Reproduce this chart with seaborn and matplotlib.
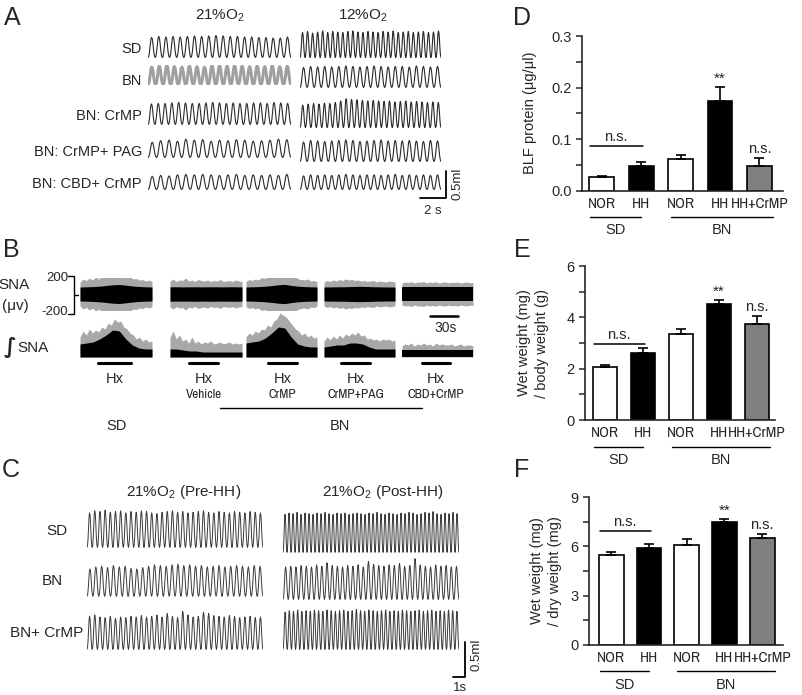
import matplotlib
matplotlib.use('Agg')
import matplotlib.pyplot as plt
from matplotlib.lines import Line2D
from matplotlib.ticker import MultipleLocator
import seaborn as sns

# ---------------- data ----------------
# one breath (fraction of the peak, trough to trough)
breath_shape = [0.0, 0.05, 0.25, 0.6, 0.9, 1.0, 0.92, 0.65, 0.3, 0.08]

# panel A: breath peak heights (ml), one value per breath
a_labels = ['SD', 'BN', 'BN: CrMP', 'BN: CrMP+ PAG', 'BN: CBD+ CrMP']
a_21 = [
    [0.38, 0.40, 0.39, 0.40, 0.39, 0.40, 0.41, 0.40, 0.41, 0.42, 0.41, 0.40, 0.40, 0.39, 0.39, 0.38, 0.38, 0.37, 0.37, 0.39],
    [0.33, 0.35, 0.36, 0.34, 0.33, 0.35, 0.34, 0.33, 0.36, 0.36, 0.35, 0.36, 0.35, 0.34, 0.35, 0.34, 0.36, 0.34, 0.35],
    [0.39, 0.40, 0.40, 0.41, 0.42, 0.41, 0.40, 0.40, 0.41, 0.42, 0.41, 0.40, 0.41, 0.40, 0.40, 0.41, 0.41, 0.40, 0.42, 0.41, 0.40],
    [0.29, 0.32, 0.33, 0.31, 0.35, 0.33, 0.34, 0.31, 0.33, 0.32, 0.34, 0.33, 0.31, 0.32, 0.33, 0.35, 0.34],
    [0.25, 0.27, 0.26, 0.28, 0.29, 0.28, 0.29, 0.28, 0.27, 0.28, 0.29, 0.27, 0.28, 0.27, 0.28, 0.27, 0.29],
]
a_12 = [
    [0.47, 0.49, 0.46, 0.48, 0.50, 0.47, 0.49, 0.48, 0.47, 0.49, 0.50, 0.48, 0.47, 0.49, 0.48, 0.47, 0.49, 0.48, 0.50, 0.47,
     0.48, 0.49, 0.47, 0.48, 0.49, 0.47, 0.48, 0.50],
    [0.38, 0.40, 0.39, 0.40, 0.39, 0.40, 0.41, 0.40, 0.39, 0.40, 0.41, 0.40, 0.39, 0.40, 0.40, 0.39, 0.41, 0.40, 0.39, 0.40],
    [0.42, 0.44, 0.45, 0.44, 0.46, 0.45, 0.47, 0.50, 0.54, 0.53, 0.52, 0.51, 0.50, 0.51, 0.50, 0.49, 0.50, 0.48, 0.49, 0.50,
     0.48, 0.49, 0.48, 0.47, 0.48, 0.47],
    [0.37, 0.40, 0.39, 0.38, 0.39, 0.40, 0.41, 0.40, 0.38, 0.39, 0.40, 0.41, 0.39, 0.40, 0.39, 0.40, 0.39, 0.38, 0.40, 0.39],
    [0.26, 0.28, 0.27, 0.28, 0.27, 0.28, 0.29, 0.28, 0.27, 0.28, 0.28, 0.27, 0.28, 0.29, 0.27, 0.28, 0.27, 0.28, 0.27, 0.28],
]

# panel C: breath peak heights (ml)
c_labels = ['SD', 'BN', 'BN+ CrMP']
c_pre = [
    [0.50, 0.53, 0.52, 0.54, 0.51, 0.52, 0.53, 0.50, 0.52, 0.51, 0.53, 0.52, 0.50, 0.49, 0.51, 0.52, 0.53, 0.51,
     0.52, 0.50, 0.51, 0.52, 0.53, 0.51, 0.50, 0.52, 0.51, 0.50, 0.52, 0.51, 0.50, 0.52, 0.51, 0.50],
    [0.40, 0.43, 0.44, 0.42, 0.45, 0.43, 0.44, 0.41, 0.40, 0.42, 0.44, 0.46, 0.45, 0.44, 0.46, 0.47, 0.45, 0.46,
     0.44, 0.45, 0.43, 0.44, 0.45, 0.43, 0.44, 0.45, 0.44, 0.43, 0.45, 0.44],
    [0.48, 0.50, 0.47, 0.46, 0.48, 0.45, 0.47, 0.46, 0.48, 0.47, 0.49, 0.47, 0.48, 0.50, 0.47, 0.52, 0.48, 0.46,
     0.55, 0.50, 0.47, 0.48, 0.54, 0.52, 0.49, 0.48, 0.47, 0.49, 0.48, 0.46, 0.47, 0.48, 0.46, 0.47],
]
c_post = [
    [0.55, 0.57, 0.56, 0.58, 0.55, 0.57, 0.56, 0.55, 0.57, 0.56, 0.58, 0.56, 0.55, 0.57, 0.56, 0.57, 0.55, 0.56,
     0.57, 0.56, 0.55, 0.57, 0.56, 0.58, 0.56, 0.55, 0.57, 0.56, 0.55, 0.57, 0.56, 0.58, 0.57, 0.55, 0.56, 0.58,
     0.57, 0.59, 0.56, 0.55, 0.57, 0.56, 0.58, 0.56],
    [0.47, 0.48, 0.47, 0.49, 0.48, 0.47, 0.50, 0.48, 0.53, 0.49, 0.48, 0.47, 0.49, 0.48, 0.50, 0.47, 0.55, 0.51,
     0.49, 0.48, 0.50, 0.49, 0.52, 0.48, 0.49, 0.59, 0.50, 0.48, 0.47, 0.50, 0.48, 0.49, 0.47, 0.48],
    [0.54, 0.56, 0.55, 0.57, 0.55, 0.56, 0.55, 0.57, 0.56, 0.55, 0.57, 0.56, 0.55, 0.56, 0.57, 0.55, 0.56, 0.58,
     0.56, 0.55, 0.57, 0.56, 0.55, 0.56, 0.57, 0.55, 0.56, 0.55, 0.57, 0.56, 0.55, 0.56, 0.57, 0.55, 0.56, 0.57,
     0.55, 0.56, 0.55, 0.57, 0.56, 0.55],
]

# panel B: SNA envelopes (uV) and integrated SNA envelopes (a.u.)
b_groups = ['SD', 'Vehicle', 'CrMP', 'CrMP+PAG', 'CBD+CrMP']
sna_core = [
    [70, 72, 74, 78, 85, 92, 95, 88, 80, 75, 72, 70],
    [72, 72, 71, 72, 72, 71, 72, 72, 71, 72, 72, 71],
    [70, 72, 74, 78, 84, 92, 96, 86, 78, 74, 72, 70],
    [70, 71, 72, 72, 74, 76, 76, 74, 72, 71, 70, 70],
    [72, 72, 72, 72, 72, 72, 72, 72, 72, 72, 72, 72],
]
sna_outer = [
    [120, 150, 135, 160, 140, 170, 150, 185, 165, 200, 180, 210, 190, 175, 195, 160, 170, 150, 155, 140, 145, 130, 140, 125],
    [130, 150, 125, 140, 135, 160, 130, 140, 125, 145, 135, 130, 140, 125, 135, 130, 145, 125, 130, 135, 125, 140, 130, 125],
    [125, 145, 135, 150, 140, 165, 155, 180, 175, 205, 190, 220, 200, 185, 190, 165, 170, 150, 145, 140, 150, 130, 135, 125],
    [120, 135, 125, 140, 130, 145, 135, 150, 140, 145, 135, 140, 130, 135, 125, 130, 135, 120, 130, 125, 120, 130, 125, 120],
    [110, 120, 115, 125, 110, 120, 118, 125, 112, 120, 115, 122, 110, 118, 120, 112, 118, 115, 120, 110, 116, 120, 112, 115],
]
int_outer = [
    [20, 26, 22, 28, 24, 27, 25, 30, 28, 34, 32, 38, 35, 36, 30, 28, 24, 22, 18, 20, 16, 18, 15, 16],
    [20, 26, 18, 22, 16, 18, 14, 20, 14, 16, 13, 15, 14, 16, 13, 14, 15, 13, 14, 15, 13, 14, 13, 14],
    [20, 24, 22, 26, 24, 28, 27, 32, 30, 36, 38, 44, 42, 40, 36, 32, 28, 26, 22, 24, 20, 22, 19, 20],
    [16, 20, 17, 21, 18, 22, 19, 23, 21, 24, 22, 25, 21, 22, 18, 19, 17, 18, 16, 18, 17, 18, 16, 17],
    [11, 13, 12, 14, 11, 13, 12, 14, 12, 13, 11, 14, 12, 13, 12, 12, 13, 11, 12, 13, 11, 12, 12, 11],
]
int_inner = [
    [13, 14, 15, 18, 22, 27, 26, 18, 12, 9, 8, 8],
    [8, 8, 7, 6, 6, 5, 5, 5, 5, 5, 5, 5],
    [14, 15, 16, 19, 24, 30, 29, 20, 13, 11, 10, 10],
    [10, 11, 12, 12, 14, 14, 13, 10, 8, 8, 8, 8],
    [7, 7, 7, 7, 7, 7, 7, 7, 7, 7, 7, 7],
]

# panels D-F
bar_keys = ['SD NOR', 'SD HH', 'BN NOR', 'BN HH', 'BN HH+CrMP']
bar_labels = ['NOR', 'HH', 'NOR', 'HH', 'HH+CrMP']
bar_colors = ['white', 'black', 'white', 'black', '#7f7f7f']
blf_mean = [0.027, 0.048, 0.061, 0.174, 0.048]
blf_err = [0.003, 0.008, 0.009, 0.027, 0.015]
body_mean = [2.05, 2.60, 3.37, 4.53, 3.75]
body_err = [0.09, 0.19, 0.17, 0.13, 0.29]
dry_mean = [5.50, 5.87, 6.07, 7.49, 6.48]
dry_err = [0.15, 0.30, 0.39, 0.16, 0.24]

# ---------------- style ----------------
sns.set_style('ticks')
plt.rcParams['font.family'] = ['Liberation Sans', 'DejaVu Sans']
plt.rcParams['mathtext.fontset'] = 'custom'
plt.rcParams['mathtext.rm'] = 'Liberation Sans'
plt.rcParams['mathtext.default'] = 'regular'
NARROW = ['Archivo Narrow', 'PT Sans Narrow', 'Liberation Sans']

W, H = 802, 695
fig = plt.figure(figsize=(W / 100, H / 100), dpi=100)


def rect(x0, y0, x1, y1):
    return [x0 / W, 1 - y1 / H, (x1 - x0) / W, (y1 - y0) / H]


def ftxt(x, y, s, **kw):
    kw.setdefault('ha', 'center')
    kw.setdefault('va', 'center')
    fig.text(x / W, 1 - y / H, s, **kw)


def fline(xs, ys, lw=1.3, color='black'):
    fig.add_artist(Line2D([x / W for x in xs], [1 - y / H for y in ys], lw=lw, color=color))


def draw_trace(box, peaks, px_ml, px_s, color='#2a2a2a', lw=0.8):
    x0, y0, x1, y1 = box
    ax = fig.add_axes(rect(x0, y0, x1, y1))
    dur = (x1 - x0) / px_s
    n = len(peaks)
    m = len(breath_shape)
    t, v = [], []
    for i, p in enumerate(peaks):
        for k, s in enumerate(breath_shape):
            t.append(dur * (i + k / m) / n)
            v.append(p * s)
    t.append(dur)
    v.append(0.0)
    sns.lineplot(x=t, y=v, ax=ax, color=color, lw=lw, estimator=None, sort=False,
                 solid_joinstyle='round')
    ax.set_xlim(0, dur)
    ax.set_ylim(-0.01, (y1 - y0) / px_ml)
    ax.set_axis_off()


def even(vals):
    return [k / (len(vals) - 1) for k in range(len(vals))]


# ---------------- panel A ----------------
ftxt(12, 18, 'A', fontsize=18)
ftxt(220, 16, '21%O$_2$', fontsize=11)
ftxt(363, 16, '12%O$_2$', fontsize=11)
a_left = [(148, 35, 291, 58), (148, 65, 291, 85), (148, 102, 291, 125), (148, 138, 291, 158), (148, 173, 291, 190)]
a_right = [(300, 30, 441, 58), (300, 65, 441, 88), (300, 98, 441, 128), (300, 138, 441, 162), (300, 173, 441, 190)]
a_label_y = [49, 81, 116, 152, 184]
for i in range(5):
    ftxt(142, a_label_y[i], a_labels[i], fontsize=10.5, ha='right')
    if i == 1:
        draw_trace(a_left[i], a_21[i], 54, 13, color='#a0a0a0', lw=2.2)
    else:
        draw_trace(a_left[i], a_21[i], 54, 13)
    draw_trace(a_right[i], a_12[i], 54, 13)
fline([446, 446, 420], [171, 198, 198])
ftxt(458, 184, '0.5ml', fontsize=9.5, rotation=90)
ftxt(433, 211, '2 s', fontsize=9.5)

# ---------------- panel B ----------------
ftxt(11, 250, 'B', fontsize=18)
ftxt(14, 285, 'SNA', fontsize=11)
ftxt(15, 306, '(\u03bcv)', fontsize=11)
ftxt(57, 278, '200', fontsize=9.5)
ftxt(55, 312, '-200', fontsize=9.5)
fline([68, 74, 74, 68], [276, 276, 314, 314], lw=1.0)
fline([74, 78], [295, 295], lw=1.0)
ftxt(4, 348, '\u222b', fontsize=15, ha='left', fontweight='bold', family=['DejaVu Sans'])
ftxt(17, 348, 'SNA', fontsize=11, ha='left')

b_x = [(80, 152), (170, 242), (246, 317), (324, 395), (402, 473)]
hx_bars = [(98, 131), (189, 218), (268, 297), (341, 370), (422, 450)]
hx_sub = ['', 'Vehicle', 'CrMP', 'CrMP+PAG', 'CBD+CrMP']
for i in range(5):
    x0, x1 = b_x[i]
    ax = fig.add_axes(rect(x0, 278, x1, 310))
    ax.fill_between(even(sna_outer[i]), [-v for v in sna_outer[i]], sna_outer[i], color='#a8a8a8', lw=0)
    ax.fill_between(even(sna_core[i]), [-v for v in sna_core[i]], sna_core[i], color='black', lw=0)
    ax.set_xlim(0, 1)
    ax.set_ylim(-160, 160)
    ax.set_axis_off()
    ax2 = fig.add_axes(rect(x0, 313, x1, 357))
    ax2.fill_between(even(int_outer[i]), 0, int_outer[i], color='#a8a8a8', lw=0)
    ax2.fill_between(even(int_inner[i]), 0, int_inner[i], color='black', lw=0)
    ax2.set_xlim(0, 1)
    ax2.set_ylim(0, 44)
    ax2.set_axis_off()
    hx0, hx1 = hx_bars[i]
    fline([hx0, hx1], [363, 363], lw=2.2)
    ftxt((hx0 + hx1) / 2, 379, 'Hx', fontsize=10.5)
    if hx_sub[i]:
        ftxt((hx0 + hx1) / 2, 394, hx_sub[i], fontsize=9.5, family=NARROW)
fline([430, 458], [316, 316], lw=1.8)
ftxt(446, 328, '30s', fontsize=10)
fline([220, 422], [408, 408], lw=1.0)
ftxt(117, 426, 'SD', fontsize=10.5)
ftxt(340, 426, 'BN', fontsize=10.5)

# ---------------- panel C ----------------
ftxt(11, 470, 'C', fontsize=18)
ftxt(184, 492, '21%O$_2$ (Pre-HH)', fontsize=11)
ftxt(383, 492, '21%O$_2$ (Post-HH)', fontsize=11)
c_left = [(87, 508, 263, 548), (87, 563, 263, 597), (87, 610, 263, 650)]
c_right = [(283, 510, 459, 553), (283, 558, 459, 600), (283, 607, 459, 650)]
c_label_xy = [(57, 531), (52, 581), (83, 633)]
for i in range(3):
    lx, ly = c_label_xy[i]
    if i == 2:
        ftxt(lx, ly, c_labels[i], fontsize=11, ha='right')
    else:
        ftxt(lx, ly, c_labels[i], fontsize=11)
    draw_trace(c_left[i], c_pre[i], 70, 12, color='#3a3a3a', lw=0.7)
    draw_trace(c_right[i], c_post[i], 70, 12, color='#3a3a3a', lw=0.7)
fline([465, 465, 453], [642, 677, 677])
ftxt(477, 655, '0.5ml', fontsize=9.5, rotation=90)
ftxt(460, 688, '1s', fontsize=9.5)


# ---------------- panels D-F ----------------
def bar_panel(box, means, errs, ylim, major, minor, fmt, ns_y, xlim, width, line_y, text_y):
    ax = fig.add_axes(rect(*box))
    sns.barplot(x=bar_keys, y=means, hue=bar_keys, palette=bar_colors, order=bar_keys,
                hue_order=bar_keys, legend=False, width=width, edgecolor='black',
                linewidth=1.2, saturation=1, ax=ax)
    ax.errorbar(range(5), means, yerr=[[0] * 5, errs], fmt='none', ecolor='black',
                elinewidth=1.2, capsize=3.5, capthick=1.2, zorder=5)
    ax.set_xlim(*xlim)
    ax.set_ylim(*ylim)
    ax.yaxis.set_major_locator(MultipleLocator(major))
    ax.yaxis.set_minor_locator(MultipleLocator(minor))
    ax.set_yticks(ax.get_yticks())
    ax.set_yticklabels([fmt.format(v) for v in ax.get_yticks()], fontsize=10.5)
    ax.set_ylim(*ylim)
    ax.set_xticks(range(5))
    ax.set_xticklabels(bar_labels, fontsize=11, family=NARROW)
    ax.tick_params(axis='x', length=0, pad=4)
    ax.tick_params(axis='y', which='both', length=4.5, width=1.1, direction='out', pad=3)
    ax.set_xlabel('')
    ax.set_ylabel('')
    for s in ['top', 'right']:
        ax.spines[s].set_visible(False)
    for s in ['left', 'bottom']:
        ax.spines[s].set_linewidth(1.2)
    ax.spines['left'].set_bounds(*ylim)
    # significance marks
    ax.plot([-0.3, 1.05], [ns_y, ns_y], color='black', lw=1.1)
    ax.annotate('n.s.', (0.37, ns_y), xytext=(0, 1.5), textcoords='offset points',
                ha='center', va='bottom', fontsize=10.5)
    ax.annotate('**', (3, means[3] + errs[3]), xytext=(0, 1), textcoords='offset points',
                ha='center', va='bottom', fontsize=11)
    ax.annotate('n.s.', (4, means[4] + errs[4]), xytext=(0, 2), textcoords='offset points',
                ha='center', va='bottom', fontsize=10.5)
    # group lines
    tr = ax.get_xaxis_transform()
    ax.plot([-0.3, 1.0], [line_y, line_y], color='black', lw=1.0, transform=tr, clip_on=False)
    ax.plot([1.75, 4.35], [line_y, line_y], color='black', lw=1.0, transform=tr, clip_on=False)
    ax.text(0.35, text_y, 'SD', transform=tr, ha='center', va='center', fontsize=10.5)
    ax.text(3.05, text_y, 'BN', transform=tr, ha='center', va='center', fontsize=10.5)
    return ax


ftxt(522, 18, 'D', fontsize=18)
bar_panel((582, 36, 783, 191), blf_mean, blf_err, (0, 0.3), 0.1, 0.05, '{:.1f}', 0.087,
          (-0.5, 4.6), 0.63, -0.165, -0.25)
ftxt(530, 113, 'BLF protein (\u03bcg/\u03bcl)', fontsize=10.5, rotation=90)

ftxt(522, 250, 'E', fontsize=18)
bar_panel((585, 266, 775, 420), body_mean, body_err, (0, 6), 2, 1, '{:.0f}', 2.95,
          (-0.53, 4.47), 0.63, -0.175, -0.26)
ftxt(533, 343, 'Wet weight (mg)\n/ body weight (g)', fontsize=10.5, rotation=90,
     linespacing=1.3, multialignment='center')

ftxt(522, 470, 'F', fontsize=18)
bar_panel((589, 497, 783, 645), dry_mean, dry_err, (0, 9), 3, 1.5, '{:.0f}', 6.92,
          (-0.59, 4.55), 0.66, -0.176, -0.27)
ftxt(546, 571, 'Wet weight (mg)\n/ dry weight (mg)', fontsize=10.5, rotation=90,
     linespacing=1.3, multialignment='center')

fig.savefig('out.png', dpi=100)
